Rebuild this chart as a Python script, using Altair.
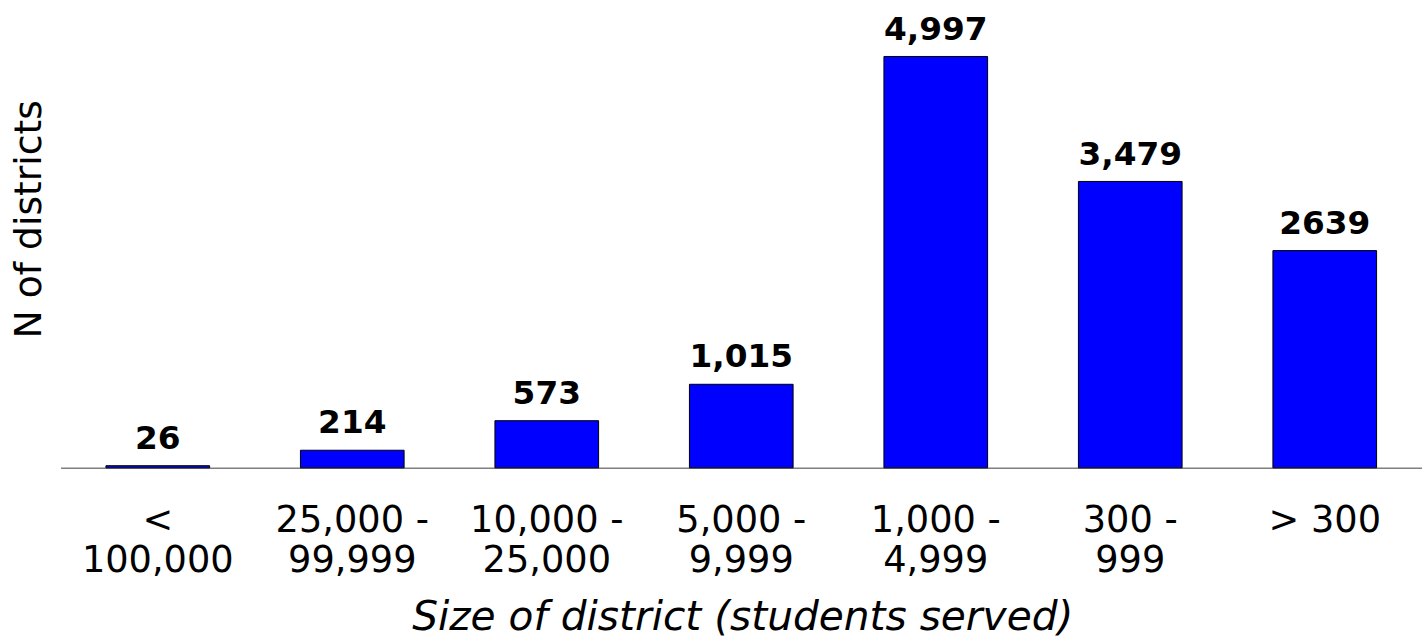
import altair as alt
import pandas as pd

# District size bands (two-line tick labels split on "\n")
size_bands = [
    "<\n100,000",
    "25,000 -\n99,999",
    "10,000 -\n25,000",
    "5,000 -\n9,999",
    "1,000 -\n4,999",
    "300 -\n999",
    "> 300",
]
district_counts = [26, 214, 573, 1015, 4997, 3479, 2639]
count_labels = ["26", "214", "573", "1,015", "4,997", "3,479", "2639"]

df = pd.DataFrame({"band": size_bands, "count": district_counts, "label": count_labels})

FONT = "DejaVu Sans"

x_enc = alt.X(
    "band:N",
    sort=size_bands,
    scale=alt.Scale(paddingInner=0.467, paddingOuter=0.2335),
    axis=alt.Axis(
        title="Size of district (students served)",
        labelExpr="split(datum.label, '\\n')",
        labelAngle=0,
        labelFont=FONT,
        labelFontSize=37,
        labelLineHeight=40,
        labelPadding=35,
        labelColor="black",
        ticks=False,
        domainColor="#7f7f7f",
        domainWidth=1.5,
        titleFont=FONT,
        titleFontSize=41,
        titleFontStyle="italic",
        titleFontWeight="normal",
        titleColor="black",
        titleBaseline="alphabetic",
        titleY=163,
        titleX=687,
    ),
)

y_enc = alt.Y(
    "count:Q",
    scale=alt.Scale(domain=[0, 5400], nice=False),
    axis=alt.Axis(
        title="N of districts",
        labels=False,
        ticks=False,
        domain=False,
        grid=False,
        titleFont=FONT,
        titleFontSize=38,
        titleFontWeight="normal",
        titleColor="black",
        titleAngle=-90,
        titleAlign="center",
        titleBaseline="middle",
        titleX=-31,
        titleY=197,
    ),
)

bars = alt.Chart(df).mark_bar(color="#0000ff", stroke="black", strokeWidth=1).encode(
    x=x_enc, y=y_enc
)

values = alt.Chart(df).mark_text(
    font=FONT, fontSize=33, fontWeight="bold", color="black",
    baseline="alphabetic", dy=-17,
).encode(
    x=alt.X("band:N", sort=size_bands),
    y=alt.Y("count:Q"),
    text="label:N",
)

chart = (
    alt.layer(bars, values)
    .properties(
        width=1372,
        height=448,
        padding={"left": 61, "top": 21, "right": 0, "bottom": 171},
        autosize=alt.AutoSizeParams(type="none"),
        background="white",
    )
    .configure_view(strokeWidth=0)
)

chart.save("out.html", embed_options={"renderer": "svg", "actions": False})
